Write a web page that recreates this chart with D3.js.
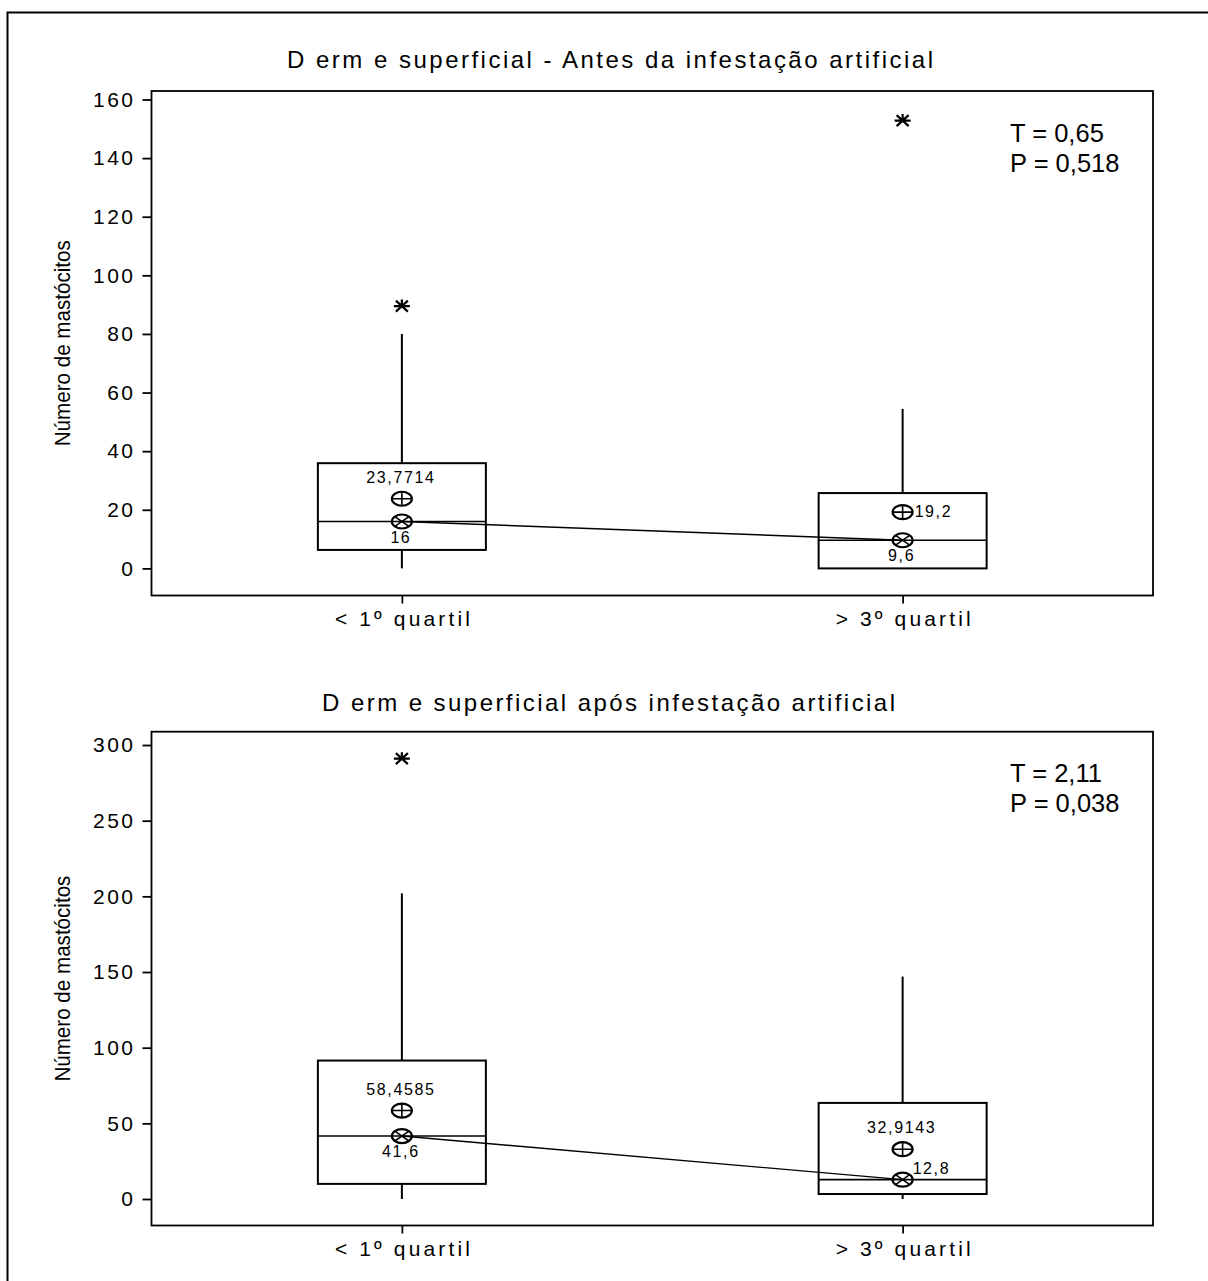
<!DOCTYPE html>
<html>
<head>
<meta charset="utf-8">
<title>Derme superficial</title>
<style>
  body { margin: 0; background: #fff; }
  text { font-family: "Liberation Sans", Arial, sans-serif; fill: #000; }
</style>
</head>
<body>
<svg id="chart" width="1208" height="1281"></svg>
<script src="https://cdnjs.cloudflare.com/ajax/libs/d3/7.8.5/d3.min.js"></script>
<script>
  /******* Data *******/
  var categories = ["< 1º quartil", "> 3º quartil"];
  var panelTitles = ["D erm e superficial - Antes da infestação artificial",
                     "D erm e superficial após infestação artificial"];
  var yLabel = "Número de mastócitos";

  var ticksBefore = [0, 20, 40, 60, 80, 100, 120, 140, 160];
  var ticksAfter = [0, 50, 100, 150, 200, 250, 300];

  // antes da infestação
  var lowBefore = [0, 0];
  var q1Before = [6.3, 0];
  var medianBefore = [16, 9.6];
  var q3Before = [35.9, 25.7];
  var highBefore = [80, 54.4];
  var outliersBefore = [[89.5], [152.8]];
  var meanBefore = [23.7714, 19.2];

  // após infestação
  var lowAfter = [0, 0];
  var q1After = [10, 3.3];
  var medianAfter = [41.6, 12.8];
  var q3After = [91.5, 63.5];
  var highAfter = [202, 147];
  var outliersAfter = [[291], []];
  var meanAfter = [58.4585, 32.9143];

  var statT = ["T = 0,65", "T = 2,11"];
  var statP = ["P = 0,518", "P = 0,038"];

  /******* Layout *******/
  var svg = d3.select("#chart");
  var left = 151.5, right = 1153;

  var panels = [
    { title: panelTitles[0], ticks: ticksBefore, domain: [-9.25, 162.9], top: 91, bottom: 595.5,
      titleX: 287, titleY: 68.3, titleLen: 646,
      low: lowBefore, q1: q1Before, med: medianBefore, q3: q3Before, high: highBefore,
      out: outliersBefore, mean: meanBefore, T: statT[0], P: statP[0],
      place: [["above", "below"], ["right", "below"]] },
    { title: panelTitles[1], ticks: ticksAfter, domain: [-17.5, 308.8], top: 731.7, bottom: 1225.5,
      titleX: 322, titleY: 711, titleLen: 573,
      low: lowAfter, q1: q1After, med: medianAfter, q3: q3After, high: highAfter,
      out: outliersAfter, mean: meanAfter, T: statT[1], P: statP[1],
      place: [["above", "below"], ["above", "aboveRight"]] }
  ];

  //outer border (cut by the page edge)
  svg.append("rect")
    .attr("x", 7.5).attr("y", 12.5)
    .attr("width", 1210).attr("height", 1300)
    .attr("fill", "none").attr("stroke", "#000").attr("stroke-width", 2);

  var x = d3.scalePoint().domain(categories).range([left, right]).padding(0.5);
  var halfBox = 84;

  function fmt(v) { return String(v).replace(".", ","); }

  panels.forEach(function(p) {
    var y = d3.scaleLinear().domain(p.domain).range([p.bottom, p.top]);
    var g = svg.append("g");

    //title
    g.append("text")
      .attr("x", p.titleX).attr("y", p.titleY)
      .attr("textLength", p.titleLen).attr("lengthAdjust", "spacing")
      .style("font-size", "24px")
      .text(p.title);

    //frame
    g.append("rect")
      .attr("x", left).attr("y", p.top)
      .attr("width", right - left).attr("height", p.bottom - p.top)
      .attr("fill", "none").attr("stroke", "#000").attr("stroke-width", 1.8);

    //y axis
    var ya = g.append("g")
      .attr("transform", "translate(" + left + ",0)")
      .call(d3.axisLeft(y).tickValues(p.ticks).tickSize(9).tickPadding(7));
    ya.select(".domain").remove();
    ya.selectAll(".tick line").attr("stroke-width", 1.8);
    ya.selectAll(".tick text")
      .style("font-size", "21px").style("letter-spacing", "2.5px")
      .attr("font-family", null);

    //x axis
    var xa = g.append("g")
      .attr("transform", "translate(0," + p.bottom + ")")
      .call(d3.axisBottom(x).tickSize(8).tickPadding(8));
    xa.select(".domain").remove();
    xa.selectAll(".tick line").attr("stroke-width", 1.8);
    xa.selectAll(".tick text")
      .style("font-size", "21px")
      .attr("textLength", 135).attr("lengthAdjust", "spacing")
      .attr("font-family", null);

    //y label
    g.append("text")
      .attr("transform", "translate(70," + (p.top + p.bottom) / 2 + ") rotate(-90)")
      .attr("text-anchor", "middle")
      .attr("textLength", 206).attr("lengthAdjust", "spacingAndGlyphs")
      .style("font-size", "22px")
      .text(yLabel);

    //T and P
    g.append("text").attr("x", 1010).attr("y", p.top + 50.7)
      .style("font-size", "25.5px").text(p.T);
    g.append("text").attr("x", 1010).attr("y", p.top + 80.7)
      .style("font-size", "25.5px").text(p.P);

    //boxes
    var boxes = g.selectAll(".box")
      .data(categories.map(function(c, i) {
        return { cat: c, low: p.low[i], q1: p.q1[i], med: p.med[i], q3: p.q3[i],
                 high: p.high[i], out: p.out[i], mean: p.mean[i], place: p.place[i] };
      }))
      .enter().append("g")
      .attr("class", "box")
      .attr("transform", function(d) { return "translate(" + x(d.cat) + ",0)"; });

    boxes.append("line")
      .attr("y1", function(d) { return y(d.q3); })
      .attr("y2", function(d) { return y(d.high); })
      .attr("stroke", "#000").attr("stroke-width", 2);
    boxes.append("line")
      .attr("y1", function(d) { return y(d.q1); })
      .attr("y2", function(d) { return y(d.low); })
      .attr("stroke", "#000").attr("stroke-width", 2);
    boxes.append("rect")
      .attr("x", -halfBox).attr("width", halfBox * 2)
      .attr("y", function(d) { return y(d.q3); })
      .attr("height", function(d) { return y(d.q1) - y(d.q3); })
      .attr("fill", "none").attr("stroke", "#000").attr("stroke-width", 2);
    boxes.append("line")
      .attr("x1", -halfBox).attr("x2", halfBox)
      .attr("y1", function(d) { return y(d.med); })
      .attr("y2", function(d) { return y(d.med); })
      .attr("stroke", "#000").attr("stroke-width", 1.6);

    //outliers
    boxes.selectAll(".outlier")
      .data(function(d) { return d.out; })
      .enter().append("path")
      .attr("class", "outlier")
      .attr("transform", function(v) { return "translate(0," + y(v) + ")"; })
      .attr("d", "M-8,0H8M-6,-5.5L6,5.5M-6,5.5L6,-5.5M0,-6.5V0")
      .attr("fill", "none").attr("stroke", "#000").attr("stroke-width", 2.2);

    //line joining the medians
    g.append("path")
      .datum(categories.map(function(c, i) { return [x(c), y(p.med[i])]; }))
      .attr("d", d3.line())
      .attr("fill", "none").attr("stroke", "#000").attr("stroke-width", 1.4);

    //mean symbol (circle with plus)
    var rx = 10, ry = 7;
    var mean = boxes.append("g")
      .attr("transform", function(d) { return "translate(0," + y(d.mean) + ")"; });
    mean.append("ellipse").attr("rx", rx).attr("ry", ry)
      .attr("fill", "#fff").attr("stroke", "#000").attr("stroke-width", 2.2);
    mean.append("path").attr("d", "M" + -rx + ",0H" + rx + "M0," + -ry + "V" + ry)
      .attr("stroke", "#000").attr("stroke-width", 1.6);

    //median symbol (circle with cross)
    var med = boxes.append("g")
      .attr("transform", function(d) { return "translate(0," + y(d.med) + ")"; });
    med.append("ellipse").attr("rx", rx).attr("ry", ry)
      .attr("fill", "none").attr("stroke", "#000").attr("stroke-width", 2.2);
    var cx = rx * Math.SQRT1_2, cy = ry * Math.SQRT1_2;
    med.append("path")
      .attr("d", "M" + -cx + "," + -cy + "L" + cx + "," + cy + "M" + -cx + "," + cy + "L" + cx + "," + -cy)
      .attr("stroke", "#000").attr("stroke-width", 1.6);

    //value labels
    function placeLabel(sel, kind, valueKey) {
      sel.append("text")
        .style("font-size", "16px").style("letter-spacing", "1.6px")
        .attr("text-anchor", function(d) {
          var k = d.place[kind];
          return (k == "right" || k == "aboveRight") ? "start" : "middle";
        })
        .attr("x", function(d) {
          var k = d.place[kind];
          if (k == "right") return 12;
          if (k == "aboveRight") return 10;
          return -1;
        })
        .attr("y", function(d) {
          var k = d.place[kind], v = y(d[valueKey]);
          if (k == "above") return v - 16;
          if (k == "below") return v + 21;
          if (k == "right") return v + 5;
          return v - 6;
        })
        .text(function(d) { return fmt(d[valueKey]); });
    }
    placeLabel(boxes, 0, "mean");
    placeLabel(boxes, 1, "med");
  });
</script>
</body>
</html>
